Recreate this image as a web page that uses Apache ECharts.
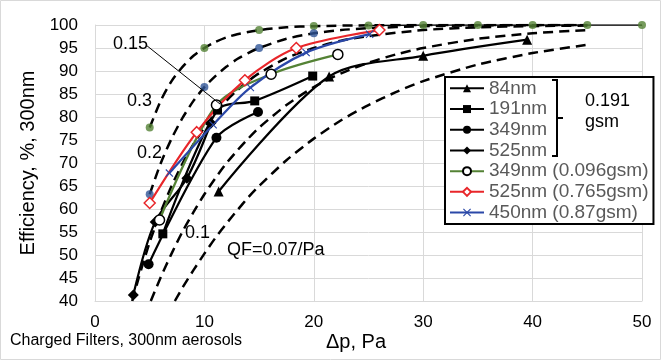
<!DOCTYPE html>
<html>
<head>
<meta charset="utf-8">
<script src="https://cdn.jsdelivr.net/npm/echarts@6/dist/echarts.min.js"></script>
<style>
html, body { margin: 0; padding: 0; background: #fff; }
#chart { width: 661px; height: 360px; }
</style>
</head>
<body>
<div id="chart"></div>
<script>
// measured series, [dp (Pa), efficiency (%)]
const nm84 = [[11.3, 63.8], [21.4, 88.8], [30, 93.3], [39.5, 96.8]]
const nm191 = [[6.2, 54.6], [11.2, 81.5], [14.6, 83.5], [19.9, 88.9]]
const nm349 = [[4.9, 48.0], [11.1, 75.5], [14.9, 81.1]]
const nm525 = [[3.5, 41.3], [5.5, 57.2], [8.4, 66.7], [10.6, 78.7]]
const nm349Light = [[5.9, 57.6], [11.1, 82.6], [16.1, 89.3], [22.2, 93.6]]
const nm525Heavy = [[5.0, 61.3], [9.3, 76.7], [13.7, 88.0], [18.4, 95.0], [26.0, 98.9]]
const nm450Heavy = [[6.8, 67.8], [10.8, 78.3], [14.2, 86.4], [19.3, 94.0], [25.1, 98.0]]

// quality factor reference curves (dashed)
const qf03 = [[5, 77.7], [6, 83.5], [7, 87.8], [8, 90.9], [9, 93.3], [10, 95.0], [11, 96.3], [12, 97.3], [13, 98.0], [15, 98.9], [17.5, 99.5], [20, 99.75], [25, 99.94], [30, 100], [35, 100], [40, 100], [45, 100]]
const qf02 = [[5, 63.2], [6, 69.9], [7, 75.3], [8, 79.8], [9, 83.5], [10, 86.5], [11, 88.9], [12, 90.9], [13, 92.6], [14, 93.9], [15, 95.0], [17.5, 97.0], [20, 98.2], [22.5, 98.9], [25, 99.3], [30, 99.75], [35, 99.9], [40, 99.97], [45, 99.99]]
const qf015 = [[3.4, 40], [4, 45.1], [5, 52.8], [6, 59.3], [7, 65.0], [8, 69.9], [9, 74.1], [10, 77.7], [11, 80.8], [12, 83.5], [13, 85.8], [14, 87.8], [15, 89.5], [17.5, 92.8], [20, 95.0], [22.5, 96.6], [25, 97.6], [30, 98.9], [35, 99.5], [40, 99.75], [45, 99.88]]
const qf01 = [[5.1, 40], [6, 45.1], [7, 50.3], [8, 55.1], [9, 59.3], [10, 63.2], [11, 66.7], [12, 69.9], [13, 72.7], [14, 75.3], [15, 77.7], [17.5, 82.6], [20, 86.5], [22.5, 89.5], [25, 91.8], [27.5, 93.6], [30, 95.0], [35, 97.0], [40, 98.2], [45, 98.9]]
const qf007 = [[7.3, 40], [8, 42.9], [9, 46.7], [10, 50.3], [11, 53.7], [12, 56.8], [13, 59.7], [14, 62.5], [15, 65.0], [17.5, 70.6], [20, 75.3], [22.5, 79.3], [25, 82.6], [27.5, 85.4], [30, 87.8], [35, 91.4], [40, 93.9], [45, 95.7]]
const qf03Dots = [[5, 77.7], [10, 95.0], [15, 98.9], [20, 99.8], [25, 99.9], [30, 100], [35, 100], [40, 100], [45, 100], [50, 100]]
const qf02Dots = [[5, 63.2], [10, 86.5], [15, 95.0], [20, 98.2]]

const legendNames = ['84nm', '191nm', '349nm', '525nm', '349nm (0.096gsm)', '525nm (0.765gsm)', '450nm (0.87gsm)']

const FONT = 'Liberation Sans, Arial, sans-serif'
const crossPath = 'path://M1,0 L5,4 L9,0 L10,1 L6,5 L10,9 L9,10 L5,6 L1,10 L0,9 L4,5 L0,1 Z'

const chart = echarts.init(document.getElementById('chart'), null, { renderer: 'canvas' })

const dashed = (name, data) => ({
  name: name,
  type: 'line',
  data: data,
  smooth: 0.25,
  showSymbol: false,
  silent: true,
  z: 1,
  lineStyle: { color: '#000', width: 2.5, type: [10, 6] }
})

const measured = (name, data, symbol, size, color, fill, border) => ({
  name: name,
  type: 'line',
  data: data,
  smooth: 0.3,
  symbol: symbol,
  symbolSize: size,
  z: 3,
  lineStyle: { color: color, width: 2.25 },
  itemStyle: { color: fill, borderColor: border || fill, borderWidth: border ? 1.5 : 0 }
})

const option = {
  animation: false,
  textStyle: { fontFamily: FONT },
  grid: { left: 95, top: 25, right: 19, bottom: 59 },
  xAxis: {
    type: 'value',
    min: 0,
    max: 50,
    interval: 10,
    axisLine: { show: true, lineStyle: { color: '#d9d9d9' } },
    axisTick: { show: false },
    axisLabel: { fontSize: 17, color: '#000', margin: 13, fontFamily: FONT },
    splitLine: { lineStyle: { color: '#d9d9d9' } }
  },
  yAxis: {
    type: 'value',
    min: 40,
    max: 100,
    interval: 5,
    name: 'Efficiency, %, 300nm',
    nameLocation: 'middle',
    nameGap: 53,
    nameTextStyle: { fontSize: 20, color: '#000', fontFamily: FONT },
    axisLine: { show: true, lineStyle: { color: '#d9d9d9' } },
    axisTick: { show: false },
    axisLabel: { fontSize: 17, color: '#000', margin: 17, fontFamily: FONT },
    splitLine: { lineStyle: { color: '#d9d9d9' } }
  },
  legend: {
    orient: 'vertical',
    left: 445,
    top: 77,
    padding: [1, 5, 1, 4],
    itemGap: 0,
    itemWidth: 34,
    itemHeight: 10,
    selectedMode: false,
    backgroundColor: '#fff',
    borderColor: '#000',
    borderWidth: 2,
    textStyle: { fontSize: 19, color: '#595959', lineHeight: 20.7, fontFamily: FONT },
    data: legendNames
  },
  graphic: [
    // outer frame
    { type: 'rect', z: 0, shape: { x: 0.5, y: 0.5, width: 660, height: 359 }, style: { fill: null, stroke: '#d9d9d9', lineWidth: 1 } },
    // QF labels
    { type: 'text', z: 10, x: 113, y: 35, style: { text: '0.15', font: '18px ' + FONT, fill: '#000' } },
    { type: 'line', z: 10, shape: { x1: 146, y1: 45, x2: 220, y2: 104 }, style: { stroke: '#000', lineWidth: 1 } },
    { type: 'text', z: 10, x: 127, y: 92, style: { text: '0.3', font: '18px ' + FONT, fill: '#000' } },
    { type: 'text', z: 10, x: 137, y: 144, style: { text: '0.2', font: '18px ' + FONT, fill: '#000' } },
    { type: 'text', z: 10, x: 185, y: 224, style: { text: '0.1', font: '18px ' + FONT, fill: '#000' } },
    { type: 'text', z: 10, x: 227, y: 241, style: { text: 'QF=0.07/Pa', font: '18px ' + FONT, fill: '#000' } },
    // axis titles
    { type: 'text', z: 10, x: 326, y: 332, style: { text: 'Δp, Pa', font: '20px ' + FONT, fill: '#000' } },
    { type: 'text', z: 10, x: 10, y: 333, style: { text: 'Charged Filters, 300nm aerosols', font: '16px ' + FONT, fill: '#000' } },
    // bracket for the 0.191 gsm group
    { type: 'polyline', z: 10, shape: { points: [[552, 80], [557, 80], [557, 156], [552, 156]] }, style: { stroke: '#000', lineWidth: 2, fill: null } },
    { type: 'line', z: 10, shape: { x1: 557, y1: 118, x2: 563, y2: 118 }, style: { stroke: '#000', lineWidth: 2 } },
    { type: 'text', z: 10, x: 585, y: 92, style: { text: '0.191', font: '18px ' + FONT, fill: '#000' } },
    { type: 'text', z: 10, x: 585, y: 113, style: { text: 'gsm', font: '18px ' + FONT, fill: '#000' } }
  ],
  series: [
    dashed('qf03', qf03),
    dashed('qf02', qf02),
    dashed('qf015', qf015),
    dashed('qf01', qf01),
    dashed('qf007', qf007),
    {
      name: 'qf03top',
      type: 'line',
      data: qf03Dots.slice(4),
      showSymbol: false,
      silent: true,
      z: 1,
      lineStyle: { color: '#000', width: 1.5 }
    },
    {
      name: 'qf03dots',
      type: 'scatter',
      data: qf03Dots,
      symbolSize: 8,
      z: 2,
      itemStyle: { color: '#548235' }
    },
    {
      name: 'qf02dots',
      type: 'scatter',
      data: qf02Dots,
      symbolSize: 8,
      z: 2,
      itemStyle: { color: '#2f5597' }
    },
    measured('84nm', nm84, 'triangle', 10, '#000', '#000'),
    measured('191nm', nm191, 'rect', 9, '#000', '#000'),
    measured('349nm', nm349, 'circle', 10, '#000', '#000'),
    measured('525nm', nm525, 'diamond', 11, '#000', '#000'),
    measured('349nm (0.096gsm)', nm349Light, 'circle', 10, '#548235', '#fff', '#000'),
    measured('525nm (0.765gsm)', nm525Heavy, 'diamond', 11, '#e8262a', '#fff', '#e8262a'),
    measured('450nm (0.87gsm)', nm450Heavy, crossPath, 8, '#2b48a8', '#2b48a8')
  ]
}

chart.setOption(option)
</script>
</body>
</html>
